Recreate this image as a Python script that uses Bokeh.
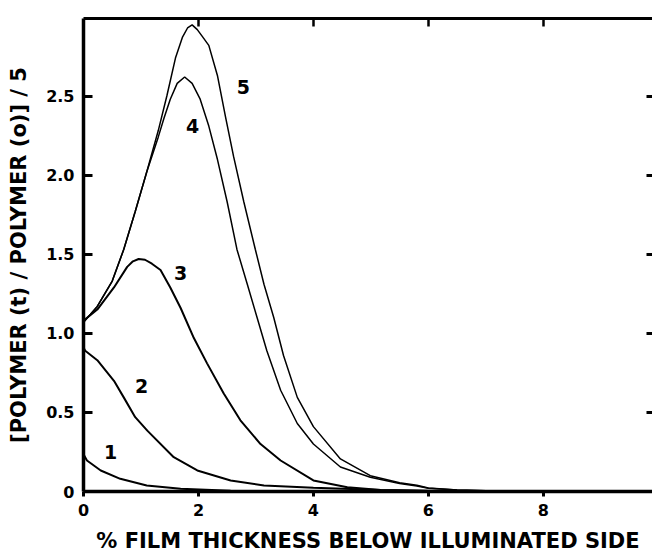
from bokeh.plotting import figure
from bokeh.models import LinearAxis, FixedTicker, Range1d, ColumnDataSource
from bokeh.core.properties import value
from bokeh.embed import file_html
from bokeh.resources import INLINE

# ---- data ----
x1 = [0.0, 0.06, 0.30, 0.64, 1.10, 1.69, 2.56, 3.5, 5.0, 9.9]
y1 = [0.235, 0.196, 0.133, 0.080, 0.038, 0.017, 0.005, 0.001, 0.0, 0.0]

x2 = [0.0, 0.03, 0.24, 0.53, 0.70, 0.90, 1.11, 1.57, 1.98, 2.56, 3.14, 4.0, 5.17, 6.5, 9.9]
y2 = [0.91, 0.89, 0.83, 0.70, 0.595, 0.47, 0.385, 0.217, 0.133, 0.07, 0.038, 0.023, 0.01, 0.002, 0.0]

x3 = [0.0, 0.24, 0.53, 0.76, 0.86, 0.96, 1.07, 1.19, 1.34, 1.51, 1.69, 1.92, 2.15, 2.44, 2.73, 3.08,
      3.43, 4.0, 4.59, 5.17, 6.0, 9.9]
y3 = [1.08, 1.15, 1.29, 1.42, 1.455, 1.47, 1.465, 1.44, 1.40, 1.29, 1.16, 0.97, 0.81, 0.62, 0.45, 0.30,
      0.196, 0.07, 0.027, 0.01, 0.003, 0.0]

x4 = [0.0, 0.24, 0.50, 0.70, 0.90, 1.10, 1.30, 1.40, 1.51, 1.63, 1.76, 1.89, 2.03, 2.18, 2.33,
      2.50, 2.67, 2.85, 3.02, 3.19, 3.43, 3.72, 4.0, 4.47, 4.99, 5.5, 5.8, 6.0, 6.5, 7.0, 8.0, 9.9]
y4 = [1.07, 1.17, 1.33, 1.53, 1.77, 2.02, 2.24, 2.36, 2.48, 2.58, 2.62, 2.58, 2.48, 2.31, 2.10,
      1.83, 1.53, 1.31, 1.10, 0.89, 0.64, 0.43, 0.30, 0.155, 0.09, 0.05, 0.035, 0.02, 0.01, 0.005, 0.0, 0.0]

x5 = [0.0, 0.24, 0.50, 0.70, 0.90, 1.10, 1.30, 1.45, 1.60, 1.72, 1.81, 1.89, 1.98, 2.06,
      2.18, 2.33, 2.47, 2.61, 2.79, 2.99, 3.14, 3.31, 3.48, 3.72, 4.0, 4.47, 4.99, 5.5, 5.8,
      6.0, 6.5, 7.0, 8.0, 9.9]
y5 = [1.07, 1.17, 1.33, 1.53, 1.77, 2.02, 2.28, 2.50, 2.74, 2.87, 2.93, 2.95, 2.92, 2.88,
      2.82, 2.63, 2.37, 2.12, 1.83, 1.53, 1.31, 1.10, 0.86, 0.595, 0.41, 0.206, 0.10, 0.055, 0.04,
      0.022, 0.01, 0.005, 0.0, 0.0]

curve_names = ["1", "2", "3", "4", "5"]
label_x = [0.47, 1.01, 1.69, 1.90, 2.78]
label_y = [0.25, 0.67, 1.38, 2.31, 2.56]

x_ticks = [0, 2, 4, 6, 8]
y_ticks = [0, 0.5, 1.0, 1.5, 2.0, 2.5]
y_tick_labels = ["0", "0.5", "1.0", "1.5", "2.0", "2.5"]

FONT = "DejaVu Sans"

p = figure(width=652, height=555, output_backend="svg", toolbar_location=None,
           x_range=Range1d(0, 9.9), y_range=Range1d(0, 2.99),
           min_border_left=83, min_border_top=18, min_border_bottom=64, min_border_right=0,
           x_axis_label="% FILM THICKNESS BELOW ILLUMINATED SIDE",
           y_axis_label="[POLYMER (t) / POLYMER (o)] / 5")
p.outline_line_color = None
p.xgrid.visible = False
p.ygrid.visible = False
p.background_fill_color = "white"
p.border_fill_color = "white"

widths = [2, 2, 2, 1.5, 1.5]
for xs, ys, w in zip([x1, x2, x3, x4, x5], [y1, y2, y3, y4, y5], widths):
    p.line(xs, ys, line_color="black", line_width=w)

src = ColumnDataSource(dict(x=label_x, y=label_y, t=curve_names))
p.text(x="x", y="y", text="t", source=src, text_font=value(FONT), text_font_style="bold",
       text_font_size="19px", text_align="center", text_baseline="middle", text_color="black")

# bottom axis
xa = p.xaxis[0]
xa.ticker = FixedTicker(ticks=x_ticks)
xa.minor_tick_line_color = None
xa.major_tick_in = 0
xa.major_tick_out = 5
xa.major_tick_line_width = 3
xa.axis_line_width = 3.5
xa.major_label_standoff = 7
xa.major_label_text_font = FONT
xa.major_label_text_font_style = "bold"
xa.major_label_text_font_size = "16px"
xa.major_label_text_color = "black"
xa.axis_label_text_font = FONT
xa.axis_label_text_font_style = "bold"
xa.axis_label_text_font_size = "21px"
xa.axis_label_text_color = "black"
xa.axis_label_standoff = 10

# left axis
ya = p.yaxis[0]
ya.ticker = FixedTicker(ticks=y_ticks)
ya.major_label_overrides = {t: s for t, s in zip(y_ticks, y_tick_labels)}
ya.minor_tick_line_color = None
ya.major_tick_in = 9
ya.major_tick_out = 0
ya.major_tick_line_width = 3
ya.axis_line_width = 3.5
ya.major_label_standoff = 9
ya.major_label_text_font = FONT
ya.major_label_text_font_style = "bold"
ya.major_label_text_font_size = "16px"
ya.major_label_text_color = "black"
ya.axis_label_text_font = FONT
ya.axis_label_text_font_style = "bold"
ya.axis_label_text_font_size = "21px"
ya.axis_label_text_color = "black"
ya.axis_label_standoff = 12

# top border with inward ticks
top_ticks = x_ticks[1:]
top = LinearAxis(ticker=FixedTicker(ticks=top_ticks))
top.major_label_overrides = {t: "" for t in top_ticks}
top.major_label_standoff = 0
top.minor_tick_line_color = None
top.major_tick_in = 8
top.major_tick_out = 0
top.major_tick_line_width = 2.5
top.axis_line_width = 3
p.add_layout(top, "above")

# right side: ticks only
right_ticks = y_ticks[1:]
right = LinearAxis(ticker=FixedTicker(ticks=right_ticks))
right.major_label_overrides = {t: "" for t in right_ticks}
right.major_label_standoff = 0
right.minor_tick_line_color = None
right.major_tick_in = 6
right.major_tick_out = 0
right.major_tick_line_width = 3
right.axis_line_color = None
p.add_layout(right, "right")

open("out.html", "w").write(file_html(p, INLINE))
